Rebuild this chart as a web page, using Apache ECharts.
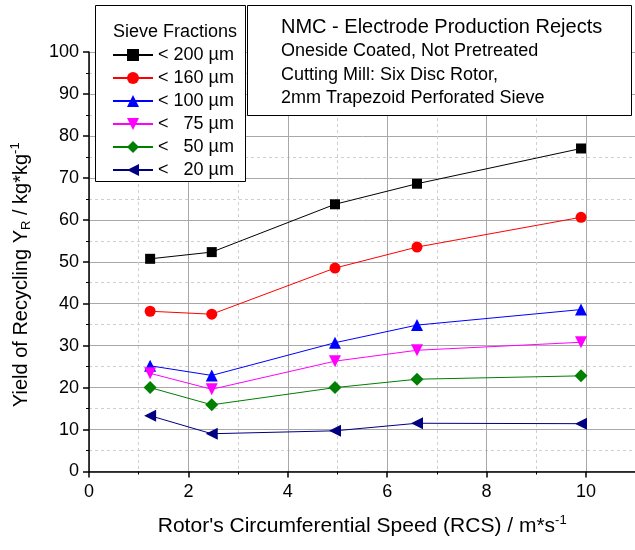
<!DOCTYPE html>
<html>
<head>
<meta charset="utf-8">
<script src="https://cdn.jsdelivr.net/npm/echarts@6/dist/echarts.min.js"></script>
<style>
  html, body { margin: 0; padding: 0; background: #fff; }
  #chart { width: 635px; height: 550px; }
</style>
</head>
<body>
<div id="chart"></div>
<script>
// rotor circumferential speed (m/s)
var speeds = [1.23, 2.47, 4.95, 6.6, 9.9];
var fractions = ['< 200 µm', '< 160 µm', '< 100 µm', '<   75 µm', '<   50 µm', '<   20 µm'];
// yield of recycling per sieve fraction (kg/kg, %)
var y200 = [50.7, 52.3, 63.7, 68.6, 77.0];
var y160 = [38.2, 37.5, 48.5, 53.5, 60.6];
var y100 = [25.2, 22.9, 30.7, 34.9, 38.6];
var y75 = [23.4, 19.6, 26.3, 28.9, 30.8];
var y50 = [20.0, 15.9, 20.0, 22.0, 22.8];
var y20 = [13.3, 9.0, 9.7, 11.5, 11.4];
var xTicks = [0, 2, 4, 6, 8, 10, 12];
var yTicks = [0, 10, 20, 30, 40, 50, 60, 70, 80, 90, 100];
var infoLines = ['NMC - Electrode Production Rejects', 'Oneside Coated, Not Pretreated',
  'Cutting Mill: Six Disc Rotor,', '2mm Trapezoid Perforated Sieve'];

var FONT = '"Liberation Sans", Arial, sans-serif';

function pairs (ys) {
  var out = [];
  for (var i = 0; i < speeds.length; i++) {
    out.push([speeds[i], ys[i]]);
  }
  return out;
}

function makeSeries (name, ys, color, symbol, size, rotate) {
  return {
    type: 'line',
    name: name,
    data: pairs(ys),
    symbol: symbol,
    symbolSize: size,
    symbolRotate: rotate || 0,
    showAllSymbol: true,
    lineStyle: { color: color, width: 1 },
    itemStyle: { color: color },
    emphasis: { disabled: true },
    animation: false
  };
}

function richName (size) {
  return {
    a: { fontSize: size, fontFamily: FONT, color: '#000', lineHeight: size + 4 },
    sub: { fontSize: 13, fontFamily: FONT, color: '#000', lineHeight: 13, verticalAlign: 'bottom' },
    sup: { fontSize: 13, fontFamily: FONT, color: '#000', lineHeight: 13, verticalAlign: 'top' }
  };
}

var chart = echarts.init(document.getElementById('chart'));

var graphics = [
  { type: 'rect', z: 3, shape: { x: 95.5, y: 5.5, width: 150, height: 176 },
    style: { fill: '#fff', stroke: '#000', lineWidth: 1 } },
  { type: 'text', z: 5, x: 113, y: 32,
    style: { text: 'Sieve Fractions', font: '18px ' + FONT, fill: '#000', verticalAlign: 'middle' } },
  { type: 'rect', z: 3, shape: { x: 247.5, y: 5.5, width: 384, height: 110 },
    style: { fill: '#fff', stroke: '#000', lineWidth: 1 } }
];
var lineY = [27, 51.5, 75, 98.5];
for (var k = 0; k < infoLines.length; k++) {
  graphics.push({
    type: 'text', z: 5, x: 281, y: lineY[k],
    style: { text: infoLines[k], font: (k === 0 ? '20px ' : '18px ') + FONT, fill: '#000', verticalAlign: 'middle' }
  });
}

var option = {
  backgroundColor: '#fff',
  animation: false,
  // the plot runs past the right edge of the picture, the 12 tick is cut off
  grid: { left: 89, top: 52, width: 596.4, height: 419.5, containLabel: false, outerBoundsMode: 'none' },
  legend: {
    data: fractions,
    orient: 'vertical',
    left: 112,
    top: 46,
    padding: 0,
    itemWidth: 40,
    itemHeight: 15,
    itemGap: 5,
    textStyle: { fontSize: 18, fontFamily: FONT, color: '#000', lineHeight: 18 },
    selectedMode: false,
    z: 4
  },
  xAxis: {
    type: 'value',
    min: xTicks[0],
    max: xTicks[xTicks.length - 1],
    interval: 2,
    name: "{a|Rotor's Circumferential Speed (RCS) / m*s}{sup|-1}",
    nameLocation: 'middle',
    nameGap: 42,
    nameTextStyle: { rich: richName(21), padding: [0, 50, 0, 0] },
    axisLine: { onZero: false, lineStyle: { color: '#000', width: 1.5 } },
    axisTick: { show: true, length: 6, inside: false, lineStyle: { color: '#000', width: 1.5 } },
    minorTick: { show: true, splitNumber: 2, length: 3, lineStyle: { color: '#000', width: 1 } },
    axisLabel: { fontSize: 18, fontFamily: FONT, color: '#000', margin: 12 },
    splitLine: { show: true, lineStyle: { color: '#a8a8a8', width: 1 } },
    minorSplitLine: { show: true, lineStyle: { color: '#cfcfcf', width: 1, type: [3, 3] } }
  },
  yAxis: {
    type: 'value',
    min: yTicks[0],
    max: yTicks[yTicks.length - 1],
    interval: 10,
    name: '{a|Yield of Recycling Y}{sub|R}{a| / kg*kg}{sup|-1}',
    nameLocation: 'middle',
    nameGap: 56,
    nameTextStyle: { rich: richName(20), padding: [0, 26, 0, 0] },
    axisLine: { show: true, onZero: false, lineStyle: { color: '#000', width: 1.5 } },
    axisTick: { show: true, length: 6, inside: false, lineStyle: { color: '#000', width: 1.5 } },
    minorTick: { show: true, splitNumber: 2, length: 3, lineStyle: { color: '#000', width: 1 } },
    axisLabel: { fontSize: 18, fontFamily: FONT, color: '#000', margin: 10 },
    splitLine: { show: true, lineStyle: { color: '#a8a8a8', width: 1 } },
    minorSplitLine: { show: true, lineStyle: { color: '#cfcfcf', width: 1, type: [3, 3] } }
  },
  graphic: graphics,
  series: [
    makeSeries(fractions[0], y200, '#000000', 'rect', 10),
    makeSeries(fractions[1], y160, '#ff0000', 'circle', 11),
    makeSeries(fractions[2], y100, '#0000ff', 'triangle', 12),
    makeSeries(fractions[3], y75, '#ff00ff', 'triangle', 12, 180),
    makeSeries(fractions[4], y50, '#008000', 'diamond', 13),
    makeSeries(fractions[5], y20, '#000080', 'triangle', 12, 90)
  ]
};

chart.setOption(option);
</script>
</body>
</html>
